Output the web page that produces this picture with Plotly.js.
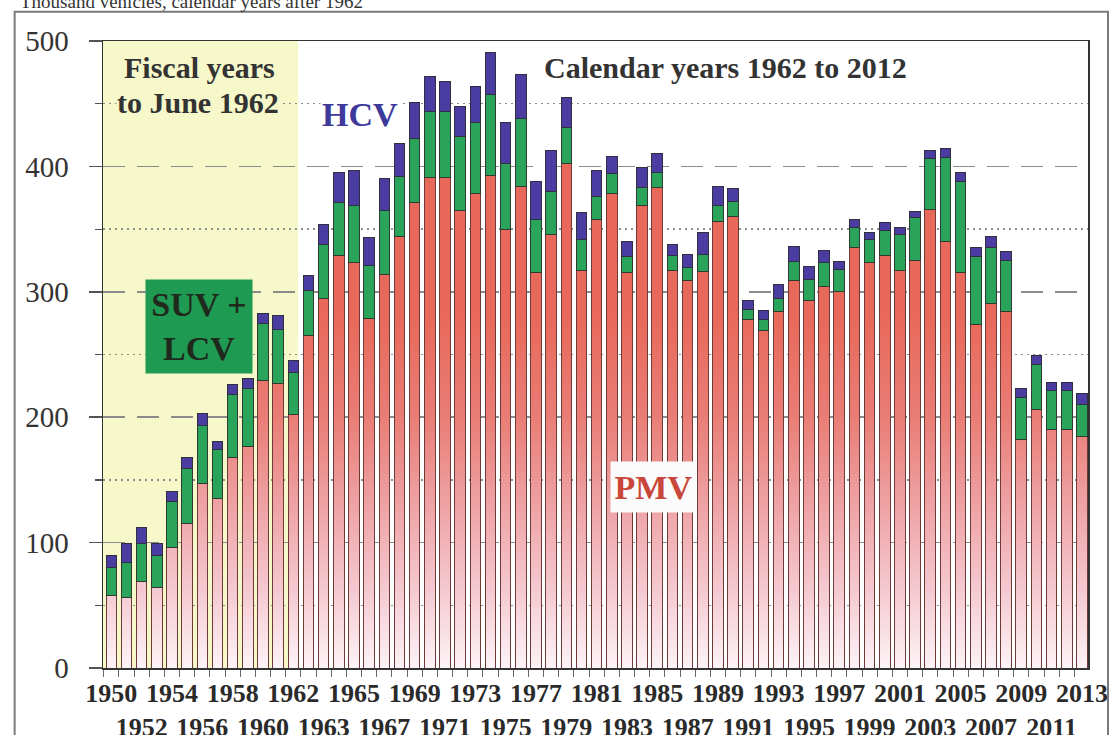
<!DOCTYPE html>
<html>
<head>
<meta charset="utf-8">
<script src="https://cdn.plot.ly/plotly-3.0.1.min.js"></script>
<style>html,body{margin:0;padding:0;background:#fff;}#chart{width:1110px;height:735px;}</style>
</head>
<body>
<div id="chart"></div>
<script>
// Periods: fiscal years to June 1950..1962, then calendar years 1962..2013
const periods = ["FY1950","FY1951","FY1952","FY1953","FY1954","FY1955","FY1956","FY1957","FY1958","FY1959","FY1960","FY1961","FY1962",
  "1962","1963","1964","1965","1966","1967","1968","1969","1970","1971","1972","1973","1974","1975","1976","1977","1978","1979",
  "1980","1981","1982","1983","1984","1985","1986","1987","1988","1989","1990","1991","1992","1993","1994","1995","1996","1997",
  "1998","1999","2000","2001","2002","2003","2004","2005","2006","2007","2008","2009","2010","2011","2012","2013"];

// Thousand vehicles
const pmv = [58,56,69,64,96,115,147,135,168,177,229,227,202,
  265,295,329,323,279,314,344,371,391,391,365,378,393,350,384,315,346,402,
  317,358,378,315,369,383,317,309,316,356,360,278,269,284,309,293,304,300,
  335,323,329,317,325,366,340,315,274,291,284,182,206,190,190,185];
const suvLcv = [22,28,30,26,37,44,46,39,50,46,46,43,34,
  36,43,42,46,42,51,48,51,53,53,59,57,64,52,54,43,34,29,
  25,18,16,13,14,12,12,10,14,13,12,8,9,11,15,17,19,18,
  16,19,20,29,34,40,67,73,54,44,41,34,36,31,31,25];
const hcv = [10,15,13,9,8,9,10,7,8,8,8,11,9,
  12,16,24,28,22,25,26,29,28,24,24,29,34,33,35,30,33,24,
  21,21,14,12,16,15,9,11,17,15,10,7,7,11,12,10,10,6,
  7,5,6,5,5,7,7,7,7,9,7,7,7,7,7,9];

// Tick labels: two staggered rows
const tickRow1 = ["1950","1954","1958","1962","1965","1969","1973","1977","1981","1985","1989","1993","1997","2001","2005","2009","2013"];
const tickRow2 = ["1952","1956","1960","1963","1967","1971","1975","1979","1983","1987","1991","1995","1999","2003","2007","2011"];

const yTickVals = [0,100,200,300,400,500];
const yMinorVals = [50,150,250,350,450];

const xIdx = periods.map((p, i) => i);
function periodIndex(label) {
  const key = (+label <= 1962) ? "FY" + label : label;
  return periods.indexOf(key);
}
const tickvals = [], ticktext = [];
tickRow1.forEach(l => { tickvals.push(periodIndex(l)); ticktext.push(l); });
tickRow2.forEach(l => { tickvals.push(periodIndex(l)); ticktext.push("<br>" + l); });
const boundaries = periods.map((p, i) => i - 0.5).concat([periods.length - 0.5]);

const serif = "Liberation Serif, Times New Roman, serif";

const traces = [
  {type: "bar", name: "PMV", x: xIdx, y: pmv,
   marker: {color: "#e8695a", line: {color: "#6e3b38", width: 1}}, hoverinfo: "y"},
  {type: "bar", name: "SUV + LCV", x: xIdx, y: suvLcv,
   marker: {color: "#2aa45b", line: {color: "#2f3a30", width: 1}}, hoverinfo: "y"},
  {type: "bar", name: "HCV", x: xIdx, y: hcv,
   marker: {color: "#4b3ca2", line: {color: "#2f2f40", width: 1}}, hoverinfo: "y"}
];

const fyEnd = periodIndex("1962") + 0.32;

const layout = {
  width: 1110, height: 735,
  margin: {l: 103, r: 22, t: 41, b: 67, pad: 0},
  paper_bgcolor: "#ffffff", plot_bgcolor: "#ffffff",
  barmode: "stack", bargap: 0.3, showlegend: false,
  font: {family: serif, color: "#2a2a2a"},
  xaxis: {
    range: [-0.55, 64.4], tickmode: "array", tickvals: tickvals, ticktext: ticktext,
    ticks: "", showline: true, linecolor: "#333", linewidth: 1.5, mirror: true,
    showgrid: false, zeroline: false, ticklabelstandoff: 1,
    tickfont: {family: serif, size: 26, color: "#2a2a2a", weight: "bold"},
    minor: {tickmode: "array", tickvals: boundaries, ticks: "outside", ticklen: 7,
            tickcolor: "#666", tickwidth: 1, showgrid: false}
  },
  yaxis: {
    range: [0, 500], tickmode: "array", tickvals: yTickVals,
    ticks: "outside", ticklen: 13, tickwidth: 1.5, tickcolor: "#555",
    showline: true, linecolor: "#333", linewidth: 1.5, mirror: true,
    showgrid: true, gridcolor: "#8c8c8c", gridwidth: 1.5, griddash: "22px,12px",
    zeroline: false, ticklabelstandoff: 14,
    tickfont: {family: serif, size: 29, color: "#333"},
    minor: {tickmode: "array", tickvals: yMinorVals, ticks: "outside", ticklen: 7, tickcolor: "#555", tickwidth: 1.2,
            showgrid: true, gridcolor: "#8c8c8c", gridwidth: 1.5, griddash: "2px,4px"}
  },
  shapes: [
    {type: "rect", xref: "x", yref: "y", x0: -0.55, x1: fyEnd, y0: 0, y1: 500,
     fillcolor: "#f6f8c9", line: {width: 0}, layer: "below"},
    {type: "rect", xref: "paper", yref: "paper", x0: -0.0897, x1: 1.0203, y0: -0.13, y1: 1.0467,
     fillcolor: "rgba(0,0,0,0)", line: {color: "#7a7a7a", width: 2}, layer: "above"}
  ],
  annotations: [
    {xref: "paper", yref: "paper", x: -0.0866, y: 1.063, xanchor: "left", yanchor: "middle",
     text: "Thousand vehicles, calendar years after 1962", showarrow: false,
     font: {family: serif, size: 19, color: "#333"}},
    {xref: "x", yref: "y", x: 5.82, y: 478.5, text: "Fiscal years", showarrow: false,
     font: {family: serif, size: 30, color: "#333", weight: "bold"}},
    {xref: "x", yref: "y", x: 5.69, y: 450.6, text: "to June 1962", showarrow: false,
     bgcolor: "#f6f8c9", borderpad: 0,
     font: {family: serif, size: 30, color: "#333", weight: "bold"}},
    {xref: "x", yref: "y", x: 40.5, y: 478.5, text: "Calendar years 1962 to 2012", showarrow: false,
     font: {family: serif, size: 30, color: "#333", weight: "bold"}},
    {xref: "x", yref: "y", x: 16.39, y: 441, text: "HCV", showarrow: false,
     bgcolor: "#ffffff", borderpad: 1,
     font: {family: serif, size: 34, color: "#3d3a9c", weight: "bold"}},
    {xref: "x", yref: "y", x: 5.80, y: 272.3, text: "SUV +<br>LCV", showarrow: false,
     bgcolor: "#1f9a52", borderpad: 0, width: 106, height: 93,
     font: {family: serif, size: 34, color: "#1f2a1c", weight: "bold"}},
    {xref: "x", yref: "y", x: 35.73, y: 144.6, text: "PMV", showarrow: false,
     bgcolor: "#fbfbfb", borderpad: 0, width: 85, height: 50,
     font: {family: serif, size: 34, color: "#c9473a", weight: "bold"}}
  ]
};

Plotly.newPlot("chart", traces, layout, {staticPlot: true, displayModeBar: false}).then(function (gd) {
  // vertical fade of the PMV bars towards the axis
  const ya = gd._fullLayout.yaxis;
  const svgNS = "http://www.w3.org/2000/svg";
  const defs = gd.querySelector(".main-svg defs");
  const grad = document.createElementNS(svgNS, "linearGradient");
  grad.setAttribute("id", "pmvFade");
  grad.setAttribute("gradientUnits", "userSpaceOnUse");
  const vTop = 280;
  grad.setAttribute("x1", 0); grad.setAttribute("x2", 0);
  grad.setAttribute("y1", ya.l2p(vTop)); grad.setAttribute("y2", ya.l2p(0));
  const stops = [[280, "#e8695a"], [200, "#e97d76"], [130, "#eea2a4"], [60, "#f5cad2"], [0, "#fdf3f6"]];
  stops.forEach(function (s) {
    const st = document.createElementNS(svgNS, "stop");
    st.setAttribute("offset", (vTop - s[0]) / vTop);
    st.setAttribute("stop-color", s[1]);
    grad.appendChild(st);
  });
  defs.appendChild(grad);
  const traceGroups = gd.querySelectorAll(".barlayer .trace");
  if (traceGroups.length) {
    traceGroups[0].querySelectorAll("path").forEach(function (p) { p.style.fill = "url(#pmvFade)"; });
  }
});
</script>
</body>
</html>
